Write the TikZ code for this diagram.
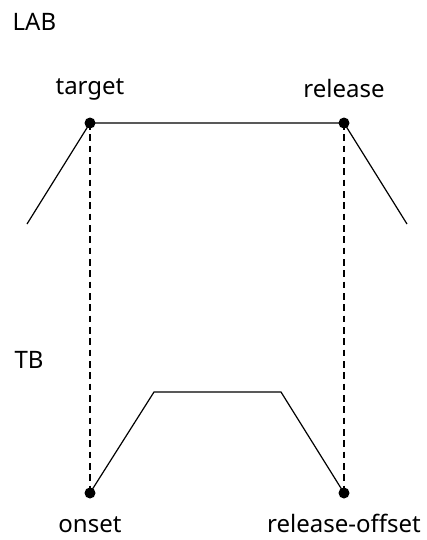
\documentclass[tikz,border=0pt]{standalone}
\usepackage{fontspec}
\setmainfont{Noto Sans}

\begin{document}
\begin{tikzpicture}[x=0.75pt,y=-0.75pt,line width=0.9pt,
        font=\fontsize{18pt}{21pt}\selectfont,
        bod/.style={circle,fill,inner sep=0pt,minimum size=8.25pt},
        popis/.style={anchor=base,inner sep=0pt},
        spoj/.style={dash pattern=on 5pt off 3.5pt}]
    \useasboundingbox (0,0) rectangle (427,540);

        % horní vrstva
        \node[anchor=base west,inner sep=0pt] (lab) at (12,30) {LAB};
        \coordinate (Lzac) at (27,224);
        \node[bod] (target) at (90,123) {};
        \node[bod] (release) at (344,123) {};
        \coordinate (Lkon) at (407,224);
        \node[popis] (targetT) at (90,94) {target};
        \node[popis] (releaseT) at (344,97) {release};
        \draw (Lzac) -- (target.center) -- (release.center) -- (Lkon);

        % dolní vrstva
        \node[anchor=base west,inner sep=0pt] (tb) at (14,368) {TB};
        \node[bod] (onset) at (90,493) {};
        \coordinate (Thor1) at (154,392);
        \coordinate (Thor2) at (281,392);
        \node[bod] (offset) at (344,493) {};
        \node[popis] (onsetT) at (90,532) {onset};
        \node[popis] (offsetT) at (344,532) {release-offset};
        \draw (onset.center) -- (Thor1) -- (Thor2) -- (offset.center);

        % svislé spojnice
        \draw[spoj] (target.center) -- (onset.center);
        \draw[spoj] (release.center) -- (offset.center);

    \end{tikzpicture}
\end{document}
